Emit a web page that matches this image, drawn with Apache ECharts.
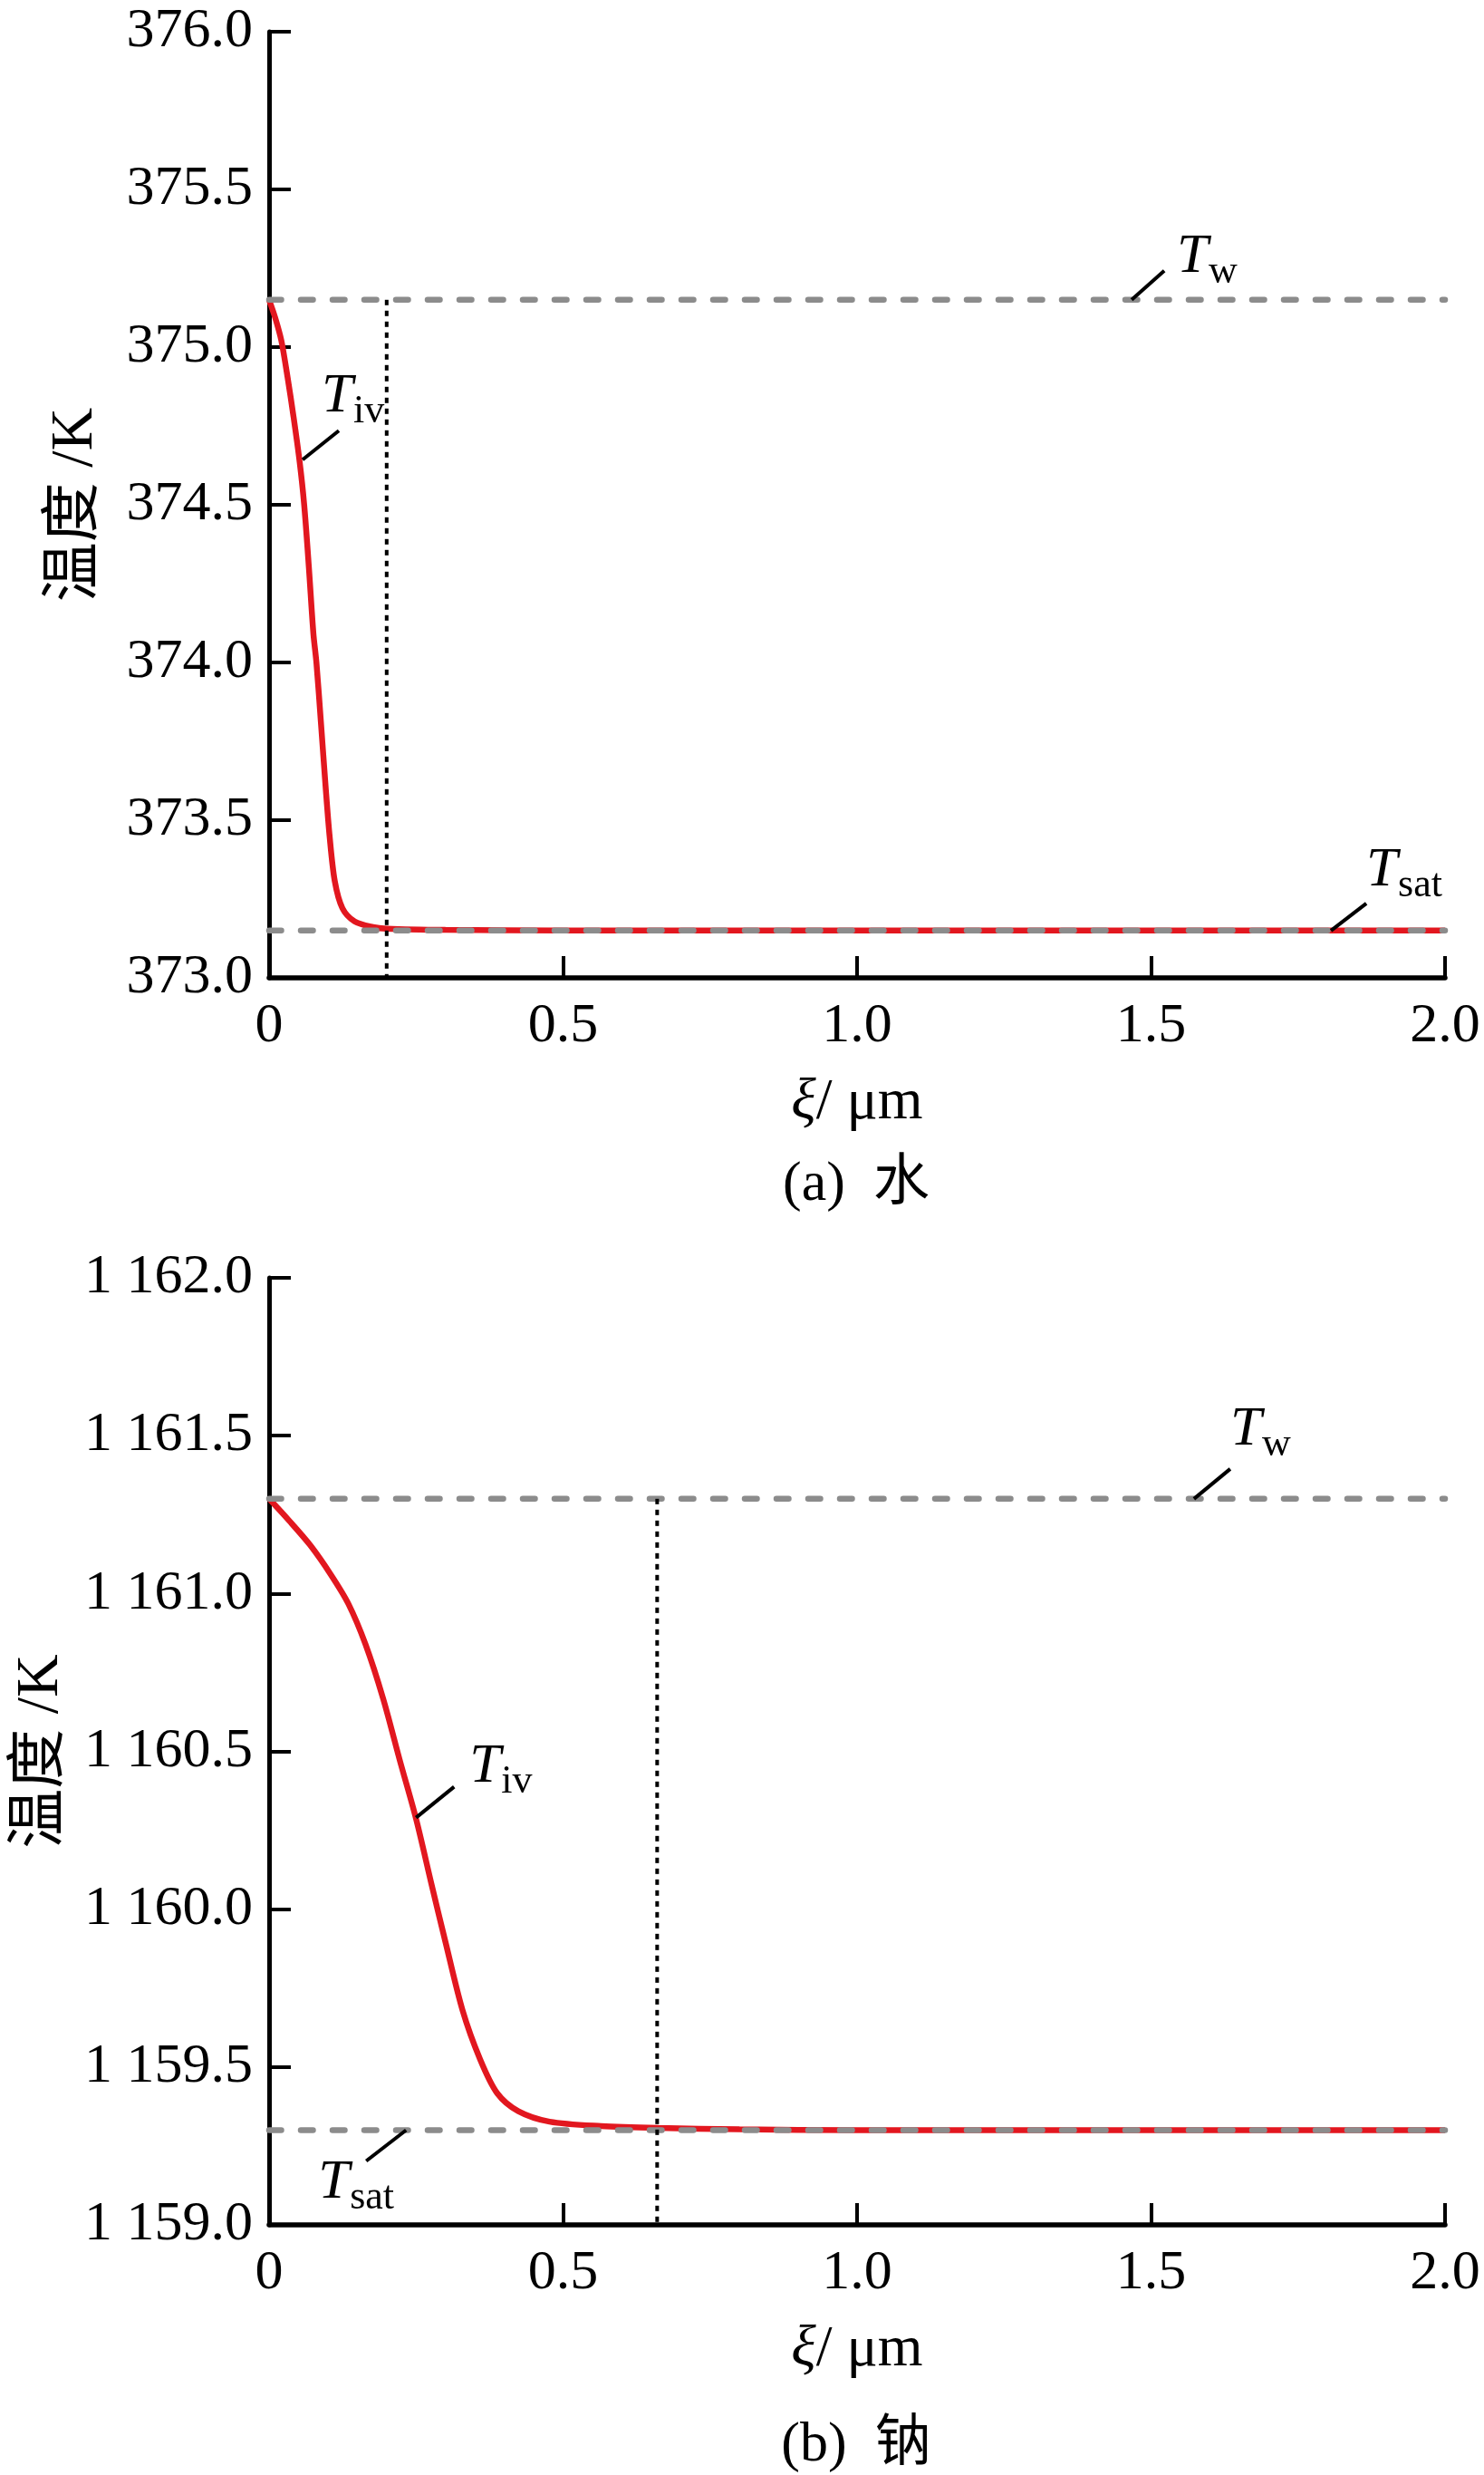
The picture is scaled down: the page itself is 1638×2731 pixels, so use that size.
<!DOCTYPE html>
<html><head><meta charset="utf-8">
<script src="https://cdn.jsdelivr.net/npm/echarts@6/dist/echarts.min.js"></script>
<style>html,body{margin:0;padding:0;background:#fff}#c{width:1638px;height:2731px}</style>
</head><body><div id="c"></div>
<script>
// ---- data ----
const xiWater = [0, 0.0104, 0.0208, 0.0312, 0.0416, 0.052, 0.0597, 0.0675, 0.0753, 0.0805, 0.0883, 0.0961, 0.1029, 0.1117, 0.1247, 0.1455, 0.1766, 0.2, 0.3, 0.5, 1.0, 1.5, 2.0];
const tWater  = [375.15, 375.093, 375.021, 374.907, 374.779, 374.636, 374.5, 374.307, 374.093, 374.0, 373.807, 373.607, 373.45, 373.307, 373.221, 373.179, 373.161, 373.156, 373.152, 373.15, 373.15, 373.15, 373.15];
const xiSodium = [0, 0.034, 0.070, 0.105, 0.135, 0.164, 0.194, 0.223, 0.250, 0.276, 0.300, 0.329, 0.359, 0.388, 0.424, 0.477, 0.565, 0.662, 0.8, 1.0, 1.5, 2.0];
const tSodium  = [1161.30, 1161.231, 1161.153, 1161.06, 1160.967, 1160.839, 1160.667, 1160.467, 1160.286, 1160.081, 1159.896, 1159.68, 1159.524, 1159.417, 1159.36, 1159.327, 1159.313, 1159.307, 1159.303, 1159.30, 1159.30, 1159.30];
const wallT = [375.15, 1161.3];
const satT = [373.15, 1159.3];
const edgeXi = [0.2, 0.66];
const xRange = [0, 2.0, 0.5];
const yRanges = [[373, 376, 0.5], [1159, 1162, 0.5]];
const captions = ['(a)  水', '(b)  钠'];
const yName = '温度 /K';
const xName = '{i|ξ}/ μm';
// annotation anchors in data coordinates: [xi, T, subscript]
const annoWater = [[1.467, 375.15, 'w'], [0.057, 374.643, 'iv'], [1.806, 373.15, 'sat']];
const annoSodium = [[1.573, 1161.3, 'w'], [0.250, 1160.29, 'iv'], [0.233, 1159.3, 'sat']];

// ---- styling ----
const SERIF = '"Liberation Serif","Times New Roman","Noto Sans CJK SC",serif';
const FS = 62;
const RED = '#e2171f', GRAY = '#8c8c8c';
// leader vectors and text offsets (pixels) for each annotation, same order as above
const annoStyle = [
  [[36,-32],[50,-47]], [[40,-32],[21,-70]], [[39,-30],[39,-66]],
  [[40,-33],[40,-76]], [[42,-34],[59,-56]], [[-44,34],[-97,58]]
];

const chart = echarts.init(document.getElementById('c'), null, {renderer:'canvas'});
const grids = [
  {left:297, top:35, width:1298, height:1044},
  {left:297, top:1410, width:1298, height:1045}
];
function xAxisCfg(i){
  return {gridIndex:i, type:'value', min:xRange[0], max:xRange[1], interval:xRange[2],
    axisLine:{show:true, onZero:false, lineStyle:{color:'#000', width:5.5}},
    axisTick:{show:true, inside:true, length:24, lineStyle:{color:'#000', width:4}},
    axisLabel:{margin:23, color:'#000', fontSize:FS, fontFamily:SERIF,
      formatter:v => v === 0 ? '0' : v.toFixed(1)},
    splitLine:{show:false},
    name:xName, nameLocation:'middle', nameGap:106,
    nameTextStyle:{color:'#000', fontSize:64, fontFamily:SERIF,
      rich:{i:{fontStyle:'italic', fontSize:64, fontFamily:SERIF, color:'#000'}}}
  };
}
function yAxisCfg(i){
  const r = yRanges[i];
  return {gridIndex:i, type:'value', min:r[0], max:r[1], interval:r[2],
    axisLine:{show:true, onZero:false, lineStyle:{color:'#000', width:5}},
    axisTick:{show:true, inside:true, length:24, lineStyle:{color:'#000', width:4}},
    axisLabel:{margin:18, color:'#000', fontSize:FS, fontFamily:SERIF,
      formatter: i === 0 ? (v => v.toFixed(1)) : (v => Math.floor(v/1000) + ' ' + (v % 1000).toFixed(1))},
    splitLine:{show:false},
    name:yName, nameLocation:'middle', nameGap: i === 0 ? 180 : 218, nameRotate:90,
    nameTextStyle:{color:'#000', fontSize:66, fontFamily:SERIF}
  };
}
const curves = [[xiWater, tWater], [xiSodium, tSodium]];
const series = [];
for (let i = 0; i < 2; i++) {
  const [xs, ts] = curves[i];
  series.push({type:'line', xAxisIndex:i, yAxisIndex:i, data: xs.map((x,k)=>[x, ts[k]]),
    smooth:0.3, symbol:'none', silent:true, z:2,
    lineStyle:{color:RED, width:6.5}});
  series.push({type:'line', xAxisIndex:i, yAxisIndex:i, data:[[xRange[0], satT[i]],[xRange[1], satT[i]]],
    symbol:'none', silent:true, z:3, lineStyle:{color:GRAY, width:6.5, type:[13.5,21.5], cap:'round'}});
  series.push({type:'line', xAxisIndex:i, yAxisIndex:i, data:[[xRange[0], wallT[i]],[xRange[1], wallT[i]]],
    symbol:'none', silent:true, z:3, lineStyle:{color:GRAY, width:6.5, type:[13.5,21.5], cap:'round'}});
  series.push({type:'line', xAxisIndex:i, yAxisIndex:i, data:[[edgeXi[i], wallT[i]],[edgeXi[i], yRanges[i][0]]],
    symbol:'none', silent:true, z:4, lineStyle:{color:'#000', width:4, type:[6,6]}});
}
chart.setOption({
  animation:false, backgroundColor:'#fff',
  grid:grids, xAxis:[xAxisCfg(0), xAxisCfg(1)], yAxis:[yAxisCfg(0), yAxisCfg(1)],
  series:series
});

// ---- annotations & captions ----
const graphic = [];
const allAnno = [annoWater.map(a=>[0].concat(a)), annoSodium.map(a=>[1].concat(a))].flat();
allAnno.forEach((a, k) => {
  const [g, xi, t, sub] = a;
  const p = chart.convertToPixel({xAxisIndex:g, yAxisIndex:g}, [xi, t]);
  const [lv, to] = annoStyle[k];
  graphic.push({type:'line', shape:{x1:p[0], y1:p[1], x2:p[0]+lv[0], y2:p[1]+lv[1]},
    style:{stroke:'#000', lineWidth:4}, z:100, silent:true});
  const tx = p[0] + to[0], ty = p[1] + to[1];
  graphic.push({type:'text', x:tx, y:ty, z:100, silent:true,
    style:{text:'T', font:'italic ' + FS + 'px ' + SERIF, fill:'#000',
      align:'left', verticalAlign:'middle', textAlign:'left', textVerticalAlign:'middle'}});
  graphic.push({type:'text', x:tx + 35, y:ty + 17, z:100, silent:true,
    style:{text:sub, font:'44px ' + SERIF, fill:'#000',
      align:'left', verticalAlign:'middle', textAlign:'left', textVerticalAlign:'middle'}});
});
const capY = [1308, 2699];
captions.forEach((c, i) => {
  graphic.push({type:'text', x:945, y:capY[i], z:100, silent:true,
    style:{text:c, font:FS + 'px ' + SERIF, fill:'#000',
      align:'center', verticalAlign:'middle', textAlign:'center', textVerticalAlign:'middle'}});
});
chart.setOption({graphic:graphic});
</script>
</body></html>
